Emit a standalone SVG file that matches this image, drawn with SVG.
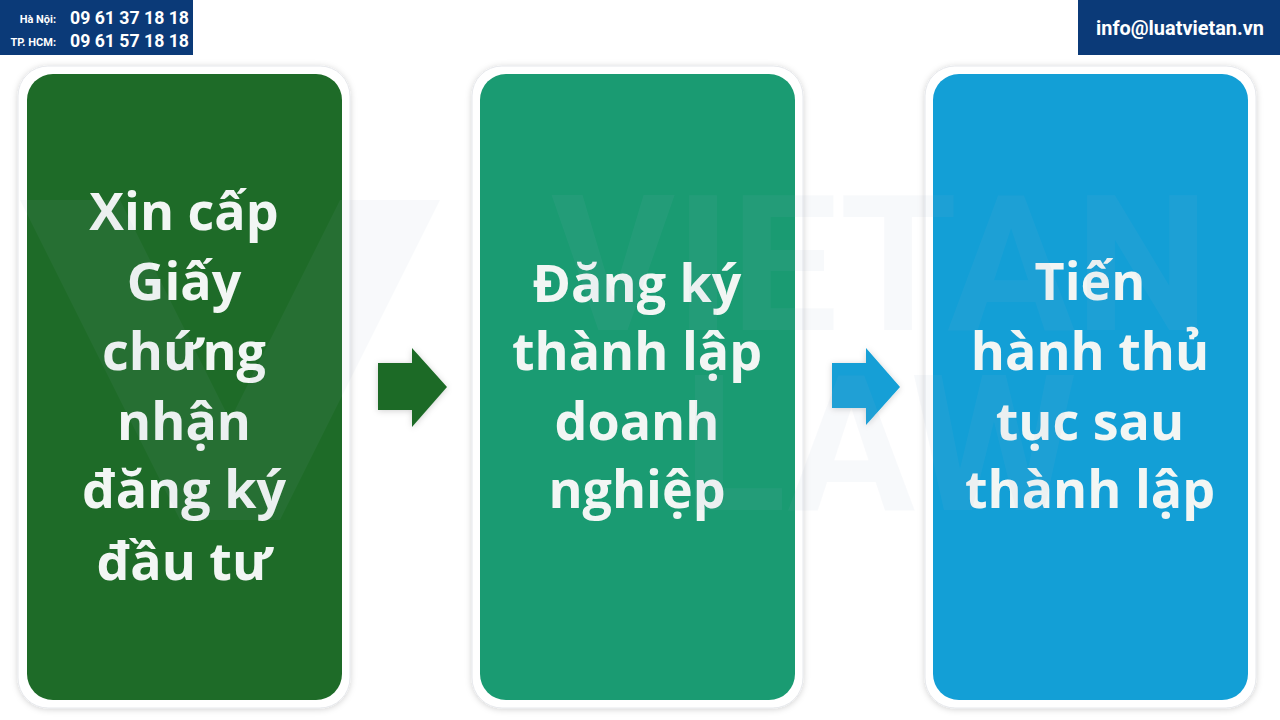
<svg xmlns="http://www.w3.org/2000/svg" width="1280" height="720" viewBox="0 0 1280 720">
<defs>
<filter id="sh" x="-10%" y="-10%" width="120%" height="120%">
<feDropShadow dx="0" dy="1" stdDeviation="3" flood-color="#000" flood-opacity="0.18"/>
</filter>
</defs>
<style>
.frame{fill:#ffffff;stroke:#e6e8ec;stroke-width:1;filter:url(#sh)}
.lbl{font-family:"Open Sans","Noto Sans",sans-serif;font-weight:700;font-size:52px;fill:#f2f6f4;text-anchor:middle}
.hd{font-family:Roboto,"Liberation Sans",sans-serif;font-weight:700;fill:#ffffff}
</style>
<rect width="1280" height="720" fill="#ffffff"/>
<g id="header-left">
<rect x="0" y="0" width="193" height="55" fill="#0b3a78"/>
<text class="hd" x="56" y="23" font-size="11" text-anchor="end">Hà Nội:</text>
<text class="hd" x="56" y="46" font-size="11" text-anchor="end">TP. HCM:</text>
<text class="hd" x="70" y="24" font-size="18" textLength="119" lengthAdjust="spacingAndGlyphs">09 61 37 18 18</text>
<text class="hd" x="70" y="47" font-size="18" textLength="119" lengthAdjust="spacingAndGlyphs">09 61 57 18 18</text>
</g>
<g id="header-right">
<rect x="1078" y="0" width="202" height="55" fill="#0b3a78"/>
<text class="hd" x="1096" y="35" font-size="21" textLength="168" lengthAdjust="spacingAndGlyphs">info@luatvietan.vn</text>
</g>
<g id="node1">
<rect class="frame" x="18" y="66" width="332" height="642" rx="30"/>
<rect x="27" y="74" width="315" height="626" rx="26" fill="#1e6b28"/>
<text class="lbl" x="184" y="230">Xin cấp</text>
<text class="lbl" x="184" y="300">Giấy</text>
<text class="lbl" x="184" y="370">chứng</text>
<text class="lbl" x="184" y="440">nhận</text>
<text class="lbl" x="184" y="508">đăng ký</text>
<text class="lbl" x="184" y="580">đầu tư</text>
</g>
<g id="node2">
<rect class="frame" x="472" y="66" width="331" height="642" rx="30"/>
<rect x="480" y="74" width="315" height="626" rx="26" fill="#1a9b72"/>
<text class="lbl" x="637" y="302">Đăng ký</text>
<text class="lbl" x="637" y="370">thành lập</text>
<text class="lbl" x="637" y="440">doanh</text>
<text class="lbl" x="637" y="508">nghiệp</text>
</g>
<g id="node3">
<rect class="frame" x="925" y="66" width="331" height="642" rx="30"/>
<rect x="933" y="74" width="315" height="626" rx="26" fill="#139fd6"/>
<text class="lbl" x="1090" y="300">Tiến</text>
<text class="lbl" x="1090" y="370">hành thủ</text>
<text class="lbl" x="1090" y="440">tục sau</text>
<text class="lbl" x="1090" y="508">thành lập</text>
</g>
<g id="connectors">
<polygon points="378,363 412,363 412,348 447,387 412,427 412,410 378,410" fill="#1e6b28" filter="url(#sh)"/>
<polygon points="832,363 866,363 866,348 900,387 866,425 866,408 832,408" fill="#139fd6" filter="url(#sh)"/>
</g>
<g id="watermark" opacity="0.07" font-family="Roboto,'Liberation Sans',sans-serif" font-weight="700" fill="#9fb0cc" text-anchor="middle">
<path d="M20 200 L120 200 L230 420 L340 200 L440 200 L280 520 L180 520 Z"/>
<text x="880" y="330" font-size="190">VIETAN</text>
<text x="880" y="510" font-size="190">LAW</text>
</g>
</svg>
